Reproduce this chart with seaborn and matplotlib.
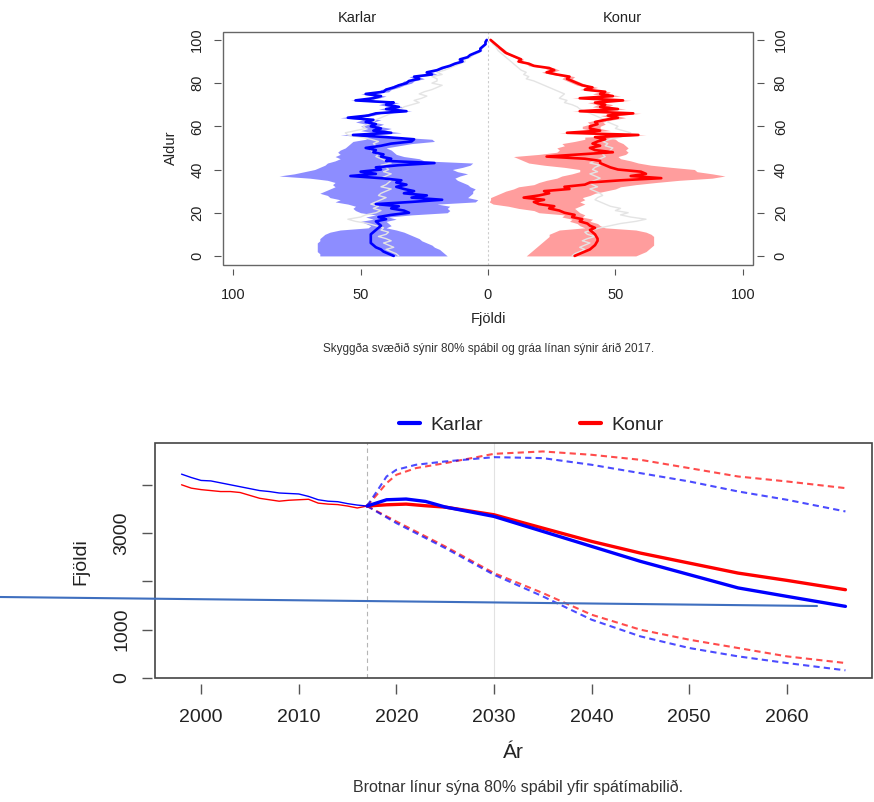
import matplotlib
matplotlib.use("Agg")
import matplotlib.pyplot as plt
import seaborn as sns
from matplotlib.lines import Line2D
from matplotlib.patches import Rectangle

# ---------------- data: population pyramid (age 0..100) ----------------
ages = list(range(101))

male_median = [37, 39, 41, 42, 44, 45, 46, 46, 46, 46,
               46, 45, 44, 43, 42, 43, 44, 40, 43, 38,
               31, 33, 38, 35, 44, 30, 18, 30, 24, 33,
               29, 33, 36, 32, 36, 34, 42, 54, 44, 50,
               42, 44, 35, 21, 40, 38, 42, 41, 45, 44,
               48, 42, 38, 30, 29, 40, 53, 38, 45, 42,
               46, 44, 48, 45, 55, 47, 44, 32, 40, 35,
               40, 37, 52, 45, 42, 48, 41, 40, 37, 35,
               32, 31, 27, 29, 22, 24, 20, 18, 15, 13,
               10, 11, 8, 7, 5, 3, 3, 2, 1, 1,
               0.5]
male_outer = [66, 66, 67, 67, 67, 67, 67, 66, 66, 65,
              64, 62, 58, 47, 46, 48, 50, 45, 48, 44,
              50, 52, 53, 52, 55, 60, 58, 62, 63, 66,
              64, 62, 60, 61, 60, 63, 70, 82, 76, 72,
              68, 66, 64, 63, 60, 58, 60, 58, 59, 58,
              56, 55, 54, 53, 48, 47, 58, 44, 50, 47,
              50, 48, 52, 49, 58, 50, 47, 36, 43, 38,
              43, 40, 54, 48, 45, 50, 43, 42, 39, 37,
              34, 33, 29, 31, 24, 25, 21, 19, 16, 14,
              11, 12, 9, 8, 6, 4, 3.5, 2.5, 1.5, 1.2,
              0.7]
male_inner = [16, 17, 18, 19, 21, 22, 24, 26, 27, 29,
              31, 33, 36, 40, 38, 39, 40, 36, 39, 30,
              16, 15, 16, 15, 20, 5, 4, 8, 7, 6,
              6, 5, 7, 8, 10, 12, 13, 11, 8, 12,
              14, 10, 7, 6, 25, 27, 33, 36, 37, 38,
              40, 35, 30, 21, 22, 35, 48, 34, 41, 38,
              43, 41, 45, 42, 52, 45, 42, 30, 38, 33,
              38, 35, 50, 43, 40, 46, 39, 38, 35, 33,
              30, 29, 25, 27, 20, 22, 19, 17, 14, 12,
              9, 10, 7, 6, 4, 2.5, 2.5, 1.5, 0.7, 0.6,
              0.3]
male_2017 = [35, 36, 38, 40, 37, 39, 41, 38, 40, 43,
             40, 39, 42, 41, 44, 47, 52, 55, 50, 48,
             44, 42, 45, 43, 46, 44, 42, 40, 43, 42,
             40, 38, 42, 40, 39, 38, 42, 40, 38, 41,
             39, 40, 42, 38, 40, 42, 44, 43, 45, 46,
             47, 44, 45, 43, 46, 50, 55, 56, 52, 48,
             49, 47, 45, 44, 42, 40, 38, 36, 34, 33,
             30, 27, 29, 26, 24, 27, 25, 22, 20, 18,
             22, 20, 20, 22, 18, 20, 17, 15, 13, 11,
             9, 9, 7, 6, 4, 3, 2.5, 1.5, 1, 0.7,
             0.4]

female_median = [34, 36, 38, 40, 41, 42, 42.5, 43, 43, 42.5,
                 42, 41, 40, 42, 40, 39, 36, 37, 33, 34,
                 30, 28, 24, 26, 20, 18, 22, 14, 20, 24,
                 22, 32, 30, 38, 40, 52, 68, 56, 62, 60,
                 51, 48, 46, 44, 44, 38, 23, 36, 49, 42,
                 40, 44, 41, 43, 46, 42, 59, 31, 44, 40,
                 40, 43, 42, 46, 51, 47, 57, 36, 51, 44,
                 46, 42, 53, 36, 49, 44, 46, 38, 41, 37,
                 35, 33, 31, 32, 27, 23, 26, 24, 18, 16,
                 12, 13, 11, 9, 7, 6, 5, 4, 3, 2,
                 1]
female_outer = [58, 60, 62, 63, 64, 65, 65, 65, 65, 65,
                64, 62, 58, 46, 44, 43, 40, 41, 37, 38,
                36, 35, 34, 36, 38, 36, 38, 37, 40, 42,
                46, 50, 52, 58, 66, 75, 88, 93, 88, 82,
                81, 72, 64, 59, 56, 52, 51, 54, 55, 54,
                55, 54, 53, 51, 50, 46, 62, 35, 48, 44,
                44, 46, 45, 49, 54, 50, 60, 39, 54, 47,
                49, 45, 56, 39, 52, 47, 48, 40, 43, 39,
                37, 35, 33, 34, 29, 25, 28, 26, 20, 17,
                13, 14, 12, 10, 8, 7, 6, 4.5, 3.5, 2.5,
                1.3]
female_inner = [15, 16, 17, 18, 19, 20, 21, 22, 23, 24,
                24, 26, 28, 38, 36, 35, 32, 33, 29, 30,
                20, 18, 12, 8, 2, 0.5, 1, 1, 3, 5,
                7, 10, 12, 18, 20, 23, 27, 29, 33, 36,
                36, 30, 22, 16, 14, 12, 10, 20, 27, 28,
                27, 30, 29, 34, 38, 38, 56, 28, 41, 37,
                37, 40, 39, 43, 48, 44, 54, 33, 48, 41,
                43, 39, 50, 33, 46, 41, 44, 36, 39, 35,
                33, 31, 29, 30, 25, 21, 24, 22, 16, 15,
                11, 12, 10, 8, 6, 5, 4, 3.5, 2.5, 1.5,
                0.7]
female_2017 = [33, 34, 36, 38, 36, 38, 40, 37, 39, 42,
               39, 38, 41, 44, 48, 52, 58, 62, 56, 52,
               55, 50, 52, 48, 46, 44, 42, 43, 45, 44,
               42, 40, 43, 41, 40, 42, 44, 42, 40, 43,
               41, 42, 44, 40, 42, 44, 46, 45, 47, 48,
               49, 46, 47, 45, 48, 52, 54, 56, 53, 50,
               51, 49, 47, 46, 44, 42, 40, 38, 36, 35,
               33, 30, 31, 28, 29, 30, 28, 26, 24, 22,
               20, 18, 15, 16, 14, 15, 13, 12, 11, 10,
               9, 8, 7, 6, 5, 4, 3.5, 3, 2, 1.5,
               1]

pyr_xticks = [-100, -50, 0, 50, 100]
pyr_xticklabels = ["100", "50", "0", "50", "100"]
pyr_yticks = [0, 20, 40, 60, 80, 100]

# ---------------- data: totals over time ----------------
years_hist = list(range(1998, 2018))
karlar_hist = [4220, 4150, 4090, 4080, 4040, 4000, 3960, 3920, 3880, 3860,
               3830, 3820, 3810, 3760, 3690, 3660, 3650, 3610, 3580, 3560]
konur_hist = [4000, 3930, 3900, 3880, 3860, 3860, 3840, 3780, 3720, 3690,
              3660, 3680, 3690, 3700, 3620, 3600, 3590, 3560, 3520, 3560]

years_fc = [2017, 2019, 2021, 2023, 2025, 2030, 2035, 2040, 2045, 2050, 2055, 2060, 2066]
karlar_fc = [3560, 3690, 3705, 3655, 3540, 3345, 3035, 2725, 2415, 2140, 1865, 1690, 1483]
konur_fc = [3560, 3586, 3600, 3566, 3538, 3379, 3103, 2828, 2586, 2379, 2172, 2021, 1828]

years_hi = [2017, 2018, 2019, 2020, 2022, 2025, 2030, 2035, 2040, 2045, 2050, 2055, 2060, 2066]
karlar_hi = [3560, 3862, 4172, 4310, 4414, 4483, 4572, 4552, 4414, 4241, 4069, 3862, 3690, 3448]
konur_hi = [3560, 3793, 4034, 4207, 4345, 4448, 4641, 4690, 4621, 4517, 4345, 4172, 4069, 3931]

years_lo = [2017, 2020, 2025, 2030, 2035, 2040, 2045, 2050, 2055, 2060, 2066]
karlar_lo = [3560, 3207, 2690, 2138, 1690, 1207, 862, 621, 448, 310, 159]
konur_lo = [3560, 3241, 2724, 2172, 1759, 1310, 1000, 793, 621, 448, 310]

yr_ticks = [2000, 2010, 2020, 2030, 2040, 2050, 2060]
cnt_ticks = [0, 1000, 2000, 3000, 4000]
cnt_ticklabels = ["0", "1000", "", "3000", ""]

# ---------------- style ----------------
sns.set_style("white")
plt.rcParams["font.family"] = ["Liberation Sans", "DejaVu Sans"]

W, H = 874, 802
fig = plt.figure(figsize=(W / 100, H / 100), dpi=100)


def axpos(l, t, r, b):
    return [l / W, 1 - b / H, (r - l) / W, (b - t) / H]


TXT = "#222222"
TICK = "#555555"
BLUE = "#0000ff"
RED = "#ff0000"
GRAY2017 = "#e4e4e4"

# ================= top: pyramid =================
ax1 = fig.add_axes(axpos(223, 31.7, 753, 265))
ax1.set_xlim(-104, 104)
ax1.set_ylim(-4.2, 103.8)

neg = lambda arr: [-v for v in arr]
ax1.fill_betweenx(ages, neg(male_outer), neg(male_inner), color="#8d8dff", lw=0, zorder=1)
ax1.fill_betweenx(ages, female_inner, female_outer, color="#ff9d9d", lw=0, zorder=1)
ax1.axvline(0, color="#cccccc", lw=0.8, ls=(0, (2, 2)), zorder=1.5)

sns.lineplot(x=neg(male_2017), y=ages, orient="y", sort=False, estimator=None,
             color=GRAY2017, linewidth=1.0, ax=ax1, zorder=2)
sns.lineplot(x=female_2017, y=ages, orient="y", sort=False, estimator=None,
             color=GRAY2017, linewidth=1.0, ax=ax1, zorder=2)
sns.lineplot(x=neg(male_median), y=ages, orient="y", sort=False, estimator=None,
             color=BLUE, linewidth=1.9, ax=ax1, zorder=3)
sns.lineplot(x=female_median, y=ages, orient="y", sort=False, estimator=None,
             color=RED, linewidth=1.9, ax=ax1, zorder=3)

ax1.set_xticks(pyr_xticks)
ax1.set_xticklabels(pyr_xticklabels)
ax1.set_yticks(pyr_yticks)
for s in ax1.spines.values():
    s.set_color("none")
ax1.spines["bottom"].set_position(("outward", 3))
ax1.spines["left"].set_position(("outward", 1.5))
ax1.spines["right"].set_position(("outward", 3))
ax1.tick_params(axis="x", bottom=True, direction="out", length=4.5, width=0.8,
                color=TICK, labelsize=10.5, labelcolor=TXT, pad=9)
ax1.tick_params(axis="y", left=True, right=True, labelright=True, direction="out",
                length=5, width=0.8, color=TICK, labelsize=10.5, labelcolor=TXT,
                pad=7, labelrotation=90)
for t in ax1.get_yticklabels():
    t.set_va("center")
ax1.set_xlabel("")
ax1.set_ylabel("")
ax1.add_patch(Rectangle((0, 0), 1, 1, transform=ax1.transAxes, fill=False,
                        ec="#666666", lw=1.0, clip_on=False, zorder=5))

fig.text(357 / W, 1 - 18 / H, "Karlar", ha="center", va="center", fontsize=10.5, color=TXT)
fig.text(622 / W, 1 - 18 / H, "Konur", ha="center", va="center", fontsize=10.5, color=TXT)
fig.text(488 / W, 1 - 319 / H, "Fjöldi", ha="center", va="center", fontsize=10.5, color=TXT)
fig.text(171 / W, 1 - 148 / H, "Aldur", ha="center", va="center", fontsize=10.5,
         rotation=90, color=TXT)
fig.text(489 / W, 1 - 349 / H,
         "Skyggða svæðið sýnir 80% spábil og gráa línan sýnir árið 2017.",
         ha="center", va="center", fontsize=8.5, color="#333333")

# ================= bottom: totals =================
ax2 = fig.add_axes(axpos(155, 443, 872, 678))
ax2.set_xlim(1995.28, 2068.72)
ax2.set_ylim(0, 4865)

ax2.axvline(2017, color="#b5b5b5", lw=0.8, ls=(0, (4, 3)), zorder=1)
ax2.axvline(2030, color="#e2e2e2", lw=0.8, zorder=1)

dash = (0, (3, 2))
sns.lineplot(x=years_hi, y=konur_hi, color=RED, alpha=0.7, linewidth=1.5,
             linestyle=dash, ax=ax2, estimator=None, sort=False, zorder=2)
sns.lineplot(x=years_hi, y=karlar_hi, color=BLUE, alpha=0.7, linewidth=1.5,
             linestyle=dash, ax=ax2, estimator=None, sort=False, zorder=2)
sns.lineplot(x=years_lo, y=konur_lo, color=RED, alpha=0.7, linewidth=1.5,
             linestyle=dash, ax=ax2, estimator=None, sort=False, zorder=2)
sns.lineplot(x=years_lo, y=karlar_lo, color=BLUE, alpha=0.7, linewidth=1.5,
             linestyle=dash, ax=ax2, estimator=None, sort=False, zorder=2)
sns.lineplot(x=years_hist, y=konur_hist, color=RED, linewidth=1.0,
             ax=ax2, estimator=None, sort=False, zorder=3)
sns.lineplot(x=years_hist, y=karlar_hist, color=BLUE, linewidth=1.0,
             ax=ax2, estimator=None, sort=False, zorder=3)
sns.lineplot(x=years_fc, y=konur_fc, color=RED, linewidth=2.4,
             ax=ax2, estimator=None, sort=False, zorder=3)
sns.lineplot(x=years_fc, y=karlar_fc, color=BLUE, linewidth=2.4,
             ax=ax2, estimator=None, sort=False, zorder=3)

ax2.set_xticks(yr_ticks)
ax2.set_yticks(cnt_ticks)
ax2.set_yticklabels(cnt_ticklabels)
for s in ax2.spines.values():
    s.set_color("none")
ax2.spines["bottom"].set_position(("outward", 4))
ax2.spines["left"].set_position(("outward", 2))
ax2.tick_params(axis="x", bottom=True, direction="out", length=7.5, width=1.0,
                color=TICK, labelsize=14, labelcolor=TXT, pad=11)
ax2.tick_params(axis="y", left=True, direction="out", length=7.5, width=1.0,
                color=TICK, labelsize=14, labelcolor=TXT, pad=8, labelrotation=90)
for t in ax2.get_yticklabels():
    t.set_va("center")
ax2.set_xlabel("")
ax2.set_ylabel("")
ax2.add_patch(Rectangle((0, 0), 1, 1, transform=ax2.transAxes, fill=False,
                        ec="#444444", lw=1.2, clip_on=False, zorder=5))

fig.text(81 / W, 1 - 562 / H, "Fjöldi", ha="center", va="center", fontsize=14,
         rotation=90, color=TXT)
fig.text(513 / W, 1 - 753 / H, "Ár", ha="center", va="center", fontsize=15, color=TXT)
fig.text(518 / W, 1 - 787 / H, "Brotnar línur sýna 80% spábil yfir spátímabilið.",
         ha="center", va="center", fontsize=11.5, color="#333333")

handles = [Line2D([], [], color=BLUE, lw=3), Line2D([], [], color=RED, lw=3)]
fig.legend(handles, ["Karlar", "Konur"], ncol=2, frameon=False, loc="center",
           bbox_to_anchor=(531 / W, 1 - 425 / H), fontsize=14, handlelength=1.1,
           handletextpad=0.5, columnspacing=5.0)

# stray straight stroke across the lower panel
fig.add_artist(Line2D([0, 817 / W], [1 - 597 / H, 1 - 606 / H], transform=fig.transFigure,
                      color="#3f6fbf", lw=1.5, zorder=10))

fig.savefig("out.png", dpi=100)
